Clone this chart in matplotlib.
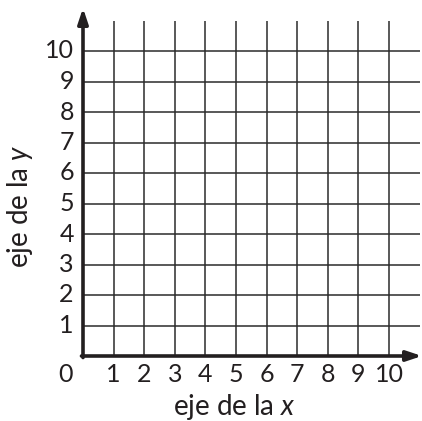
import matplotlib
matplotlib.use("Agg")
import matplotlib.pyplot as plt

plt.rcParams['font.family'] = ['Lato', 'DejaVu Sans']
plt.rcParams['mathtext.fontset'] = 'custom'
plt.rcParams['mathtext.rm'] = 'Lato'
plt.rcParams['mathtext.it'] = 'Lato:italic'

x_ticks = [1, 2, 3, 4, 5, 6, 7, 8, 9, 10]
y_ticks = [1, 2, 3, 4, 5, 6, 7, 8, 9, 10]
grid_max = 11
x_label = 'eje de la $\\mathit{x}$'
y_label = 'eje de la $\\mathit{y}$'

W, H = 422, 421
fig = plt.figure(figsize=(W / 100, H / 100), dpi=100)
left, bottom = 83 / W, 65 / H
unit_x, unit_y = 30.6, 30.5
xmax = (W - 83) / unit_x
ymax = (H - 65) / unit_y
ax = fig.add_axes([left, bottom, 1 - left, 1 - bottom])
ax.set_xlim(0, xmax)
ax.set_ylim(0, ymax)
ax.axis('off')

gc = '#2b2b2b'
for v in x_ticks:
    ax.plot([v, v], [0, grid_max], color=gc, lw=1.1, solid_capstyle='butt')
for v in y_ticks:
    ax.plot([0, grid_max], [v, v], color=gc, lw=1.1, solid_capstyle='butt')

ac = '#231f20'
ax.annotate('', xy=(xmax, 0), xytext=(-0.05, 0),
            arrowprops=dict(arrowstyle='-|>,head_length=0.9,head_width=0.3',
                            color=ac, lw=2.6, shrinkA=0, shrinkB=0),
            annotation_clip=False)
ax.annotate('', xy=(0, (H - 65 - 8) / unit_y), xytext=(0, -0.05),
            arrowprops=dict(arrowstyle='-|>,head_length=0.9,head_width=0.3',
                            color=ac, lw=2.6, shrinkA=0, shrinkB=0),
            annotation_clip=False)

fs = 18
for v in x_ticks:
    ax.text(v, -0.62, str(v), ha='center', va='center', fontsize=fs, color=ac)
for v in y_ticks:
    ax.text(-0.3, v, str(v), ha='right', va='center', fontsize=fs, color=ac)
ax.text(-0.58, -0.62, '0', ha='center', va='center', fontsize=fs, color=ac)

lfs = 20
fig.text(234 / W, 1 - 407 / H, x_label, ha='center', va='center', fontsize=lfs, color=ac)
fig.text(20 / W, 1 - 206 / H, y_label, ha='center', va='center', fontsize=lfs,
         color=ac, rotation=90)

fig.savefig('out.png', dpi=100)
